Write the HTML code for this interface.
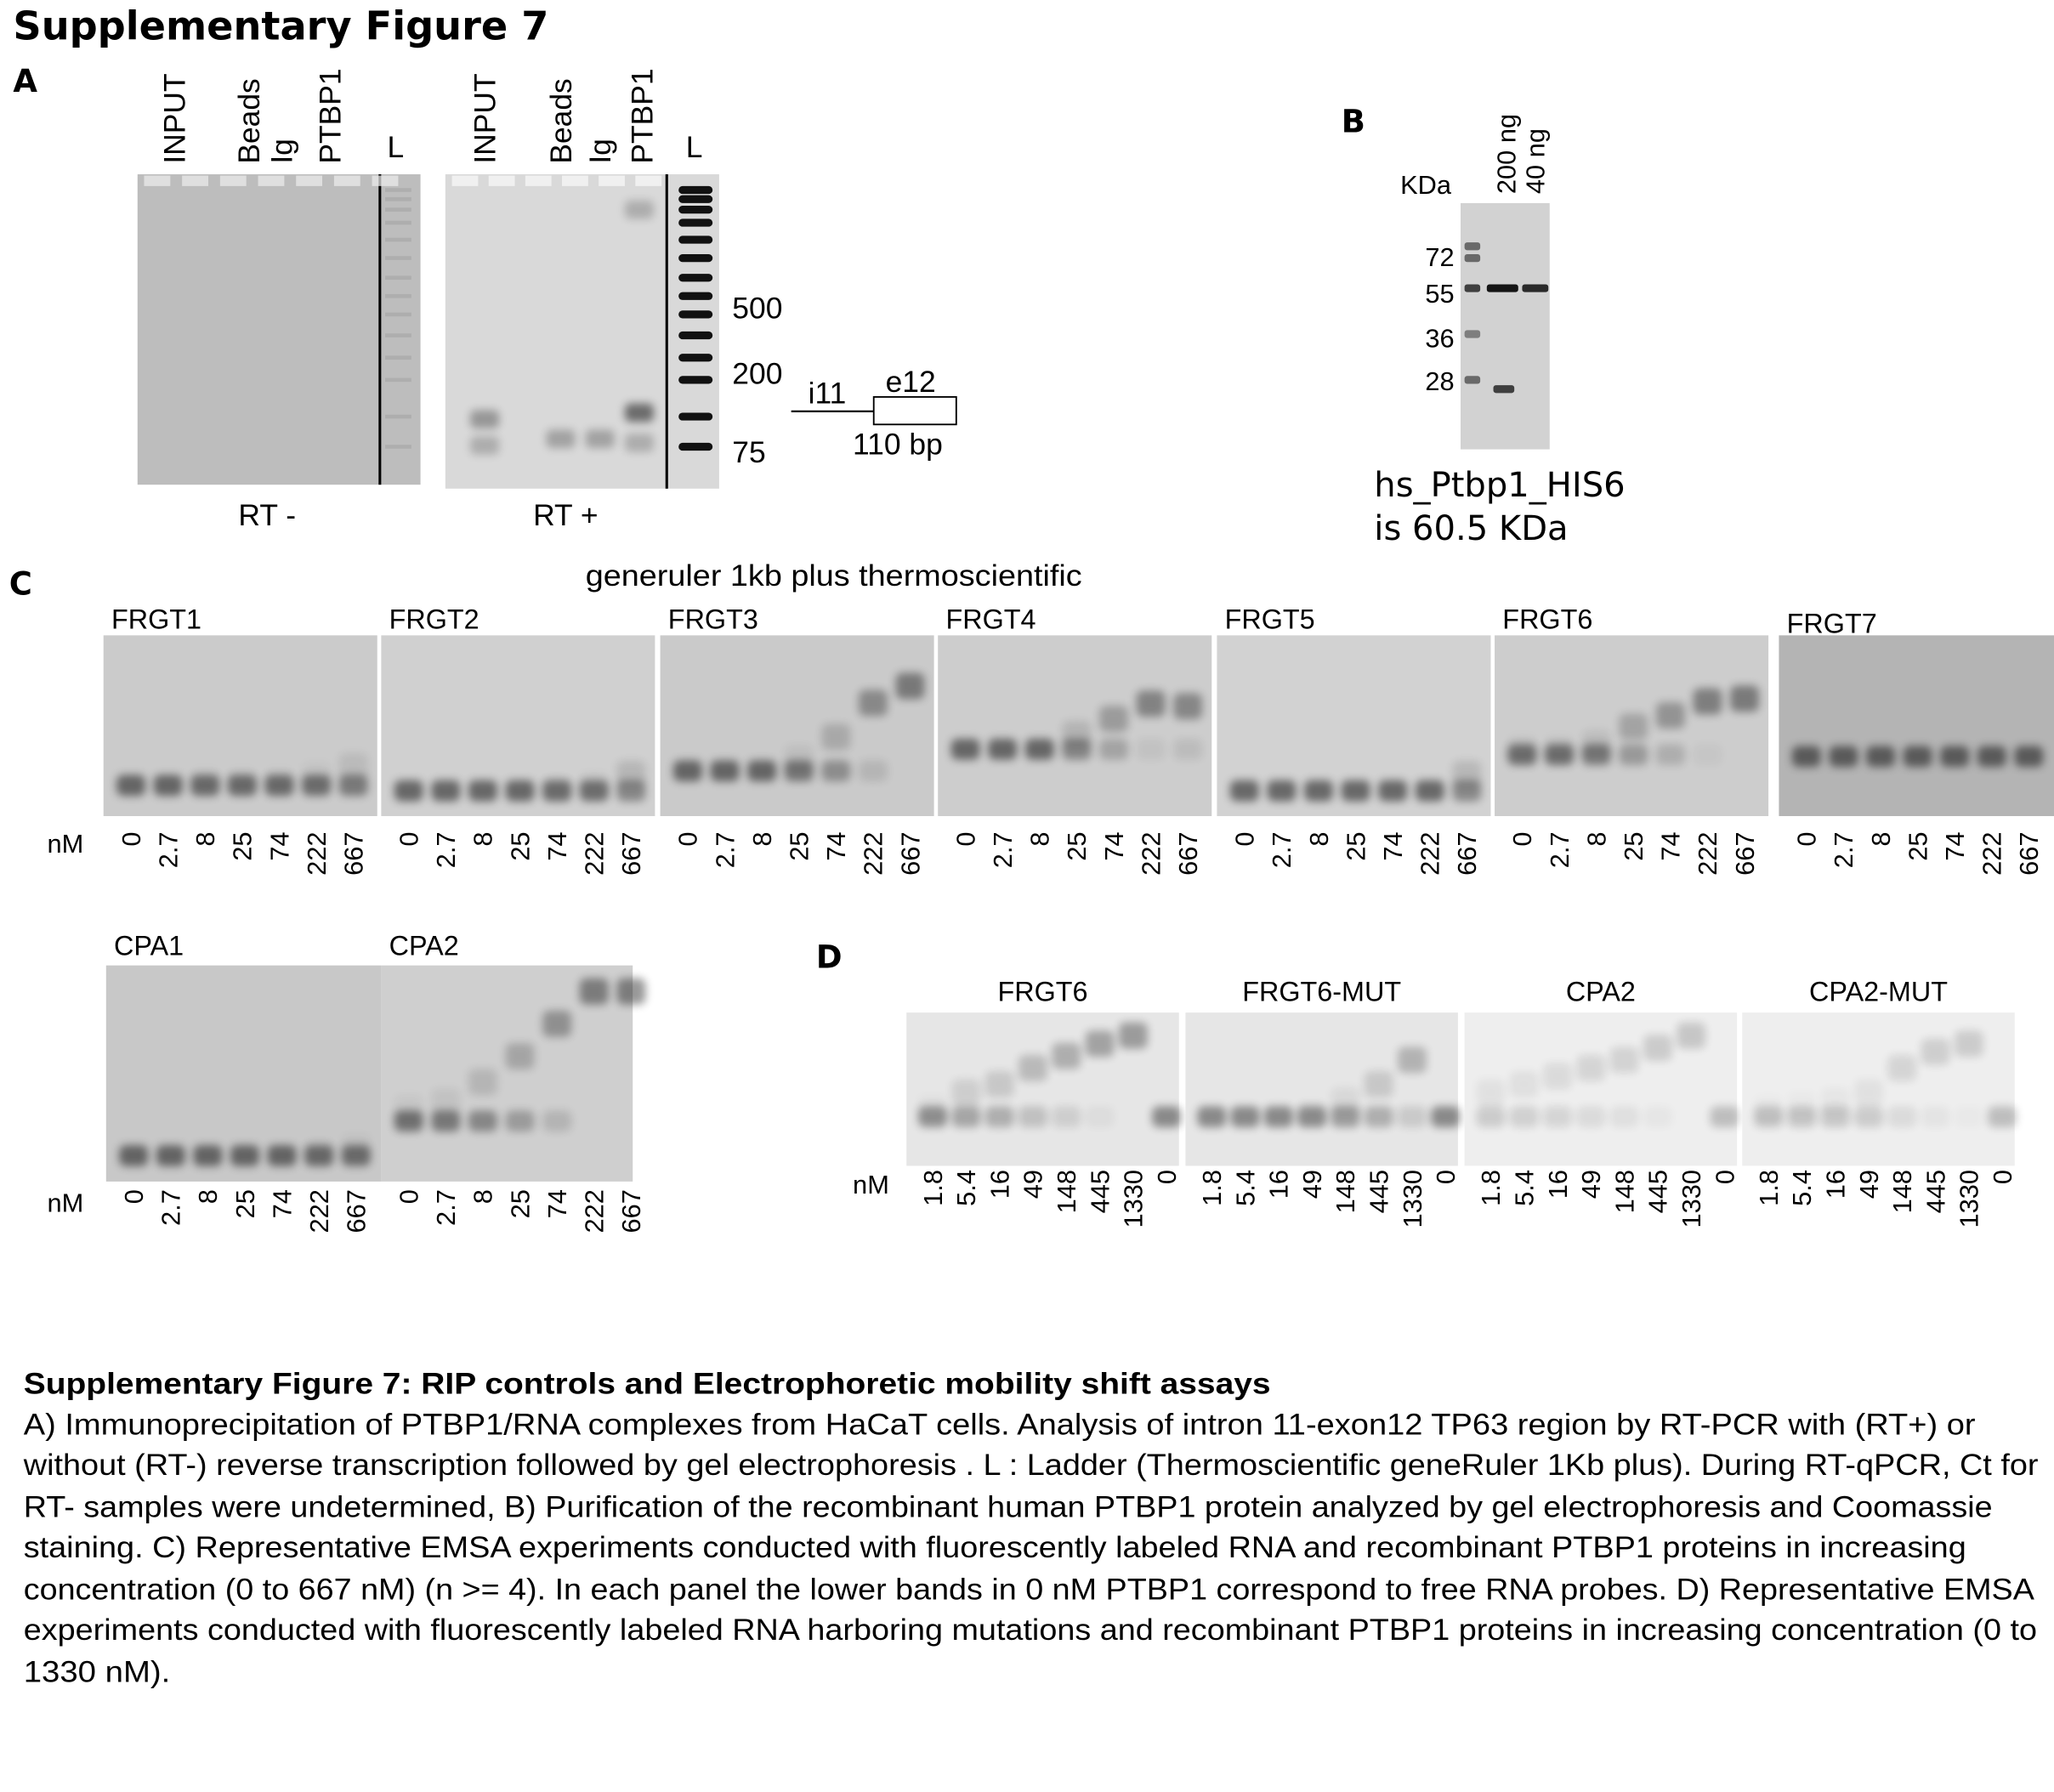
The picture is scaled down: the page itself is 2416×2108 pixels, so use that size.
<!DOCTYPE html>
<html><head><meta charset="utf-8"><style>
html,body{margin:0;padding:0;background:#fff;}
svg{display:block;}
text{font-family:"Liberation Sans","DejaVu Sans",sans-serif;fill:#000;}
</style></head><body>
<svg id="fig" width="2416" height="2108" viewBox="0 0 1568 1368" xmlns="http://www.w3.org/2000/svg">
<defs>
<filter id="blur" x="-30%" y="-80%" width="160%" height="260%"><feGaussianBlur stdDeviation="3.2"/></filter>
</defs>
<text x="10" y="30" font-size="30" font-weight="bold" style="font-family:'DejaVu Sans',sans-serif">Supplementary Figure 7</text>
<text x="10" y="70" font-size="24" font-weight="bold" style="font-family:'DejaVu Sans',sans-serif">A</text>
<text x="1024" y="101" font-size="24" font-weight="bold" style="font-family:'DejaVu Sans',sans-serif">B</text>
<text x="7" y="454" font-size="24" font-weight="bold" style="font-family:'DejaVu Sans',sans-serif">C</text>
<text x="623" y="739" font-size="24" font-weight="bold" style="font-family:'DejaVu Sans',sans-serif">D</text>

<rect x="105" y="133" width="216" height="237" fill="#bdbdbd"/>
<rect x="289" y="133" width="2" height="237" fill="#000"/>
<rect x="340" y="133" width="209" height="240" fill="#d9d9d9"/>
<rect x="508" y="133" width="2" height="240" fill="#000"/>
<g id="aBands"></g>
<g id="aLabels"></g>
<text x="559" y="243" font-size="23">500</text>
<text x="559" y="293" font-size="23">200</text>
<text x="559" y="353" font-size="23">75</text>
<line x1="604" y1="314" x2="667" y2="314" stroke="#000" stroke-width="1.5"/>
<rect x="667" y="303" width="63" height="21" fill="#fff" stroke="#000" stroke-width="1.2"/>
<text x="617" y="308" font-size="23">i11</text>
<text x="676" y="299" font-size="23">e12</text>
<text x="651" y="347" font-size="23">110 bp</text>
<text x="182" y="401" font-size="23">RT -</text>
<text x="407" y="401" font-size="23">RT +</text>

<rect x="1115" y="155" width="68" height="188" fill="#d2d2d2"/>
<g id="bBands"></g>
<text x="1069" y="148" font-size="20">KDa</text>
<text x="1088" y="203" font-size="20">72</text>
<text x="1088" y="231" font-size="20">55</text>
<text x="1088" y="265" font-size="20">36</text>
<text x="1088" y="298" font-size="20">28</text>
<text transform="translate(1157,148) rotate(-90)" font-size="20">200 ng</text>
<text transform="translate(1179,148) rotate(-90)" font-size="20">40 ng</text>
<text x="1049" y="379" font-size="26" style="font-family:'DejaVu Sans',sans-serif">hs_Ptbp1_HIS6</text>
<text x="1049" y="412" font-size="26" style="font-family:'DejaVu Sans',sans-serif">is 60.5 KDa</text>

<text x="447" y="447" font-size="23" textLength="379" lengthAdjust="spacingAndGlyphs">generuler 1kb plus thermoscientific</text>
<text x="36" y="651" font-size="20">nM</text>
<text x="36" y="925" font-size="20">nM</text>
<text x="651" y="911" font-size="20">nM</text>
<g id="emsa"></g>

<g font-size="23">
<text x="18" y="1064" font-weight="bold" textLength="952" lengthAdjust="spacingAndGlyphs">Supplementary Figure 7: RIP controls and Electrophoretic mobility shift assays</text>
<text x="18" y="1095" textLength="1490" lengthAdjust="spacingAndGlyphs">A) Immunoprecipitation of PTBP1/RNA complexes from HaCaT cells. Analysis of intron 11-exon12 TP63 region by RT-PCR with (RT+) or</text>
<text x="18" y="1126" textLength="1538" lengthAdjust="spacingAndGlyphs">without (RT-) reverse transcription followed by gel electrophoresis . L : Ladder (Thermoscientific geneRuler 1Kb plus). During RT-qPCR, Ct for</text>
<text x="18" y="1158" textLength="1503" lengthAdjust="spacingAndGlyphs">RT- samples were undetermined, B) Purification of the recombinant human PTBP1 protein analyzed by gel electrophoresis and Coomassie</text>
<text x="18" y="1189" textLength="1483" lengthAdjust="spacingAndGlyphs">staining. C) Representative EMSA experiments conducted with fluorescently labeled RNA and recombinant PTBP1 proteins in increasing</text>
<text x="18" y="1221" textLength="1535" lengthAdjust="spacingAndGlyphs">concentration (0 to 667 nM) (n &gt;= 4). In each panel the lower bands in 0 nM PTBP1 correspond to free RNA probes. D) Representative EMSA</text>
<text x="18" y="1252" textLength="1537" lengthAdjust="spacingAndGlyphs">experiments conducted with fluorescently labeled RNA harboring mutations and recombinant PTBP1 proteins in increasing concentration (0 to</text>
<text x="18" y="1284" textLength="112" lengthAdjust="spacingAndGlyphs">1330 nM).</text>
</g>
</svg>
<script>
const NS='http://www.w3.org/2000/svg';
const concC=['0','2.7','8','25','74','222','667'];
const concD=['1.8','5.4','16','49','148','445','1330','0'];
const gelNamesC=['FRGT1','FRGT2','FRGT3','FRGT4','FRGT5','FRGT6','FRGT7','CPA1','CPA2'];
const gelNamesD=['FRGT6','FRGT6-MUT','CPA2','CPA2-MUT'];
const boundFRGT1=[0,0,0.05,0.05,0.05,0.1,0.2];
const boundFRGT2=[0,0,0,0,0.05,0.1,0.3];
const boundFRGT3=[0,0,0,0.15,0.4,0.8,1];
const boundFRGT4=[0,0,0,0.3,0.6,0.9,0.85];
const boundFRGT5=[0,0,0,0,0,0,0.3];
const boundFRGT6=[0.1,0.1,0.2,0.5,0.7,0.95,1];
const boundFRGT7=[0,0,0,0,0,0,0];
const boundCPA1=[0,0,0,0,0,0.05,0.1];
const boundCPA2=[0.1,0.15,0.3,0.5,0.75,1,1];
const boundD1=[0.1,0.3,0.4,0.6,0.75,0.9,1,0];
const boundD2=[0,0,0,0.05,0.2,0.4,0.7,0];
const boundD3=[0.3,0.4,0.5,0.6,0.7,0.85,1,0];
const boundD4=[0.1,0.15,0.2,0.3,0.6,0.8,0.9,0];
const boundC=[boundFRGT1,boundFRGT2,boundFRGT3,boundFRGT4,boundFRGT5,boundFRGT6,boundFRGT7,boundCPA1,boundCPA2];
const boundD=[boundD1,boundD2,boundD3,boundD4];
const layC=[
 {x:79,y:485,w:209,h:138,bg:'#cbcbcb',free:0.83,shift:0.3,lab:480,conc:635},
 {x:291,y:485,w:209,h:138,bg:'#d0d0d0',free:0.86,shift:0.55,lab:480,conc:635},
 {x:504,y:485,w:209,h:138,bg:'#cacaca',free:0.75,shift:0.28,lab:480,conc:635},
 {x:716,y:485,w:209,h:138,bg:'#cdcdcd',free:0.63,shift:0.35,lab:480,conc:635},
 {x:929,y:485,w:209,h:138,bg:'#d2d2d2',free:0.86,shift:0.55,lab:480,conc:635},
 {x:1141,y:485,w:209,h:138,bg:'#cdcdcd',free:0.66,shift:0.35,lab:480,conc:635},
 {x:1358,y:485,w:210,h:138,bg:'#b4b4b4',free:0.67,shift:0.4,lab:483,conc:635},
 {x:81,y:737,w:210,h:165,bg:'#c8c8c8',free:0.88,shift:0.5,lab:729,conc:908},
 {x:291,y:737,w:192,h:165,bg:'#cfcfcf',free:0.72,shift:0.12,lab:729,conc:908}
];
const layD=[{x:692},{x:905},{x:1118},{x:1330}];

function mk(tag,attrs,parent){const e=document.createElementNS(NS,tag);for(const k in attrs)e.setAttribute(k,attrs[k]);parent.appendChild(e);return e;}
const emsa=document.getElementById('emsa');

function drawGel(L,bound,labels,name,labelCenter,bandW,step,first,dark,nameSize){
  const g=mk('g',{},emsa);
  
  
  const r=mk('rect',{x:L.x,y:L.y,width:L.w,height:L.h,fill:L.bg},g);
  
  
  const t=mk('text',{x:labelCenter?L.x+L.w/2:L.x+6,y:L.lab,'font-size':nameSize,'text-anchor':labelCenter?'middle':'start'},g);
  t.textContent=name;
  
  
  bound.forEach((b,i)=>{
    const cx=L.x+first+i*step;
    const fy=L.y+L.h*L.free, sy=L.y+L.h*(L.free-(L.free-L.shift)*b);
    const f=mk('rect',{x:cx-bandW/2,y:fy-8,width:bandW,height:16,rx:5,fill:'#000',opacity:(dark*(1-b)).toFixed(2),filter:'url(#blur)'},g);
    
    
    if(b>0){
      const s=mk('rect',{x:cx-bandW/2,y:sy-10,width:bandW,height:20,rx:5,fill:'#000',opacity:(dark*0.8*b).toFixed(2),filter:'url(#blur)'},g);
      
      
    }
    const lt=mk('text',{transform:`translate(${cx+7},${L.conc}) rotate(-90)`,'font-size':20,'text-anchor':'end'},g);
    lt.textContent=labels[i];
    
    
  });
}
layC.forEach((L,i)=>drawGel(L,boundC[i],concC,gelNamesC[i],false,22,28.3,21,0.5,21));
layD.forEach((d,i)=>drawGel({x:d.x,y:773,w:208,h:117,bg:i<2?'#e6e6e6':'#eeeeee',free:0.68,shift:0.15,lab:764,conc:893},boundD[i],concD,gelNamesD[i],true,22,25.5,20,i<2?0.4:0.2,21));

const laneA=[['INPUT',133],['Beads',190],['Ig',215],['PTBP1',252],['INPUT',370],['Beads',428],['Ig',458],['PTBP1',490]];
const aL=document.getElementById('aLabels');
laneA.forEach(([n,x])=>{const t=mk('text',{transform:`translate(${x+8},125) rotate(-90)`,'font-size':23},aL);t.textContent=n;

});
[[302],[530]].forEach(([x])=>{const t=mk('text',{x:x,y:120,'font-size':23,'text-anchor':'middle'},aL);t.textContent='L';

});
const aB=document.getElementById('aBands');
const ladderY=[145,152,160,170,183,197,212,226,240,256,273,290,318,341];
ladderY.forEach(y=>{const r=mk('rect',{x:518,y:y-3,width:26,height:6,rx:3,fill:'#111'},aB);


const r2=mk('rect',{x:294,y:y-1.5,width:20,height:3,fill:'#999',opacity:0.4},aB);

});
[[370,320,0.3],[370,340,0.2],[428,335,0.25],[458,335,0.25],[488,315,0.5],[488,338,0.2],[488,160,0.2]].forEach(([x,y,o])=>{
const r=mk('rect',{x:x-11,y:y-7,width:22,height:14,rx:4,fill:'#000',opacity:o,filter:'url(#blur)'},aB);

});
for(let i=0;i<7;i++){const w=mk('rect',{x:110+i*29,y:134,width:20,height:8,fill:'#eee',opacity:0.7},aB);}
for(let i=0;i<6;i++){const w=mk('rect',{x:345+i*28,y:134,width:20,height:8,fill:'#f5f5f5',opacity:0.8},aB);}
const bB=document.getElementById('bBands');
[[1118,188,12,0.5],[1118,197,12,0.5],[1118,220,12,0.7],[1118,255,12,0.4],[1118,290,12,0.5],[1135,220,24,0.9],[1140,297,16,0.7],[1162,220,20,0.8]].forEach(([x,y,w,o])=>{
const r=mk('rect',{x:x,y:y-3,width:w,height:6,rx:2,fill:'#000',opacity:o},bB);

});
</script>
</body></html>
